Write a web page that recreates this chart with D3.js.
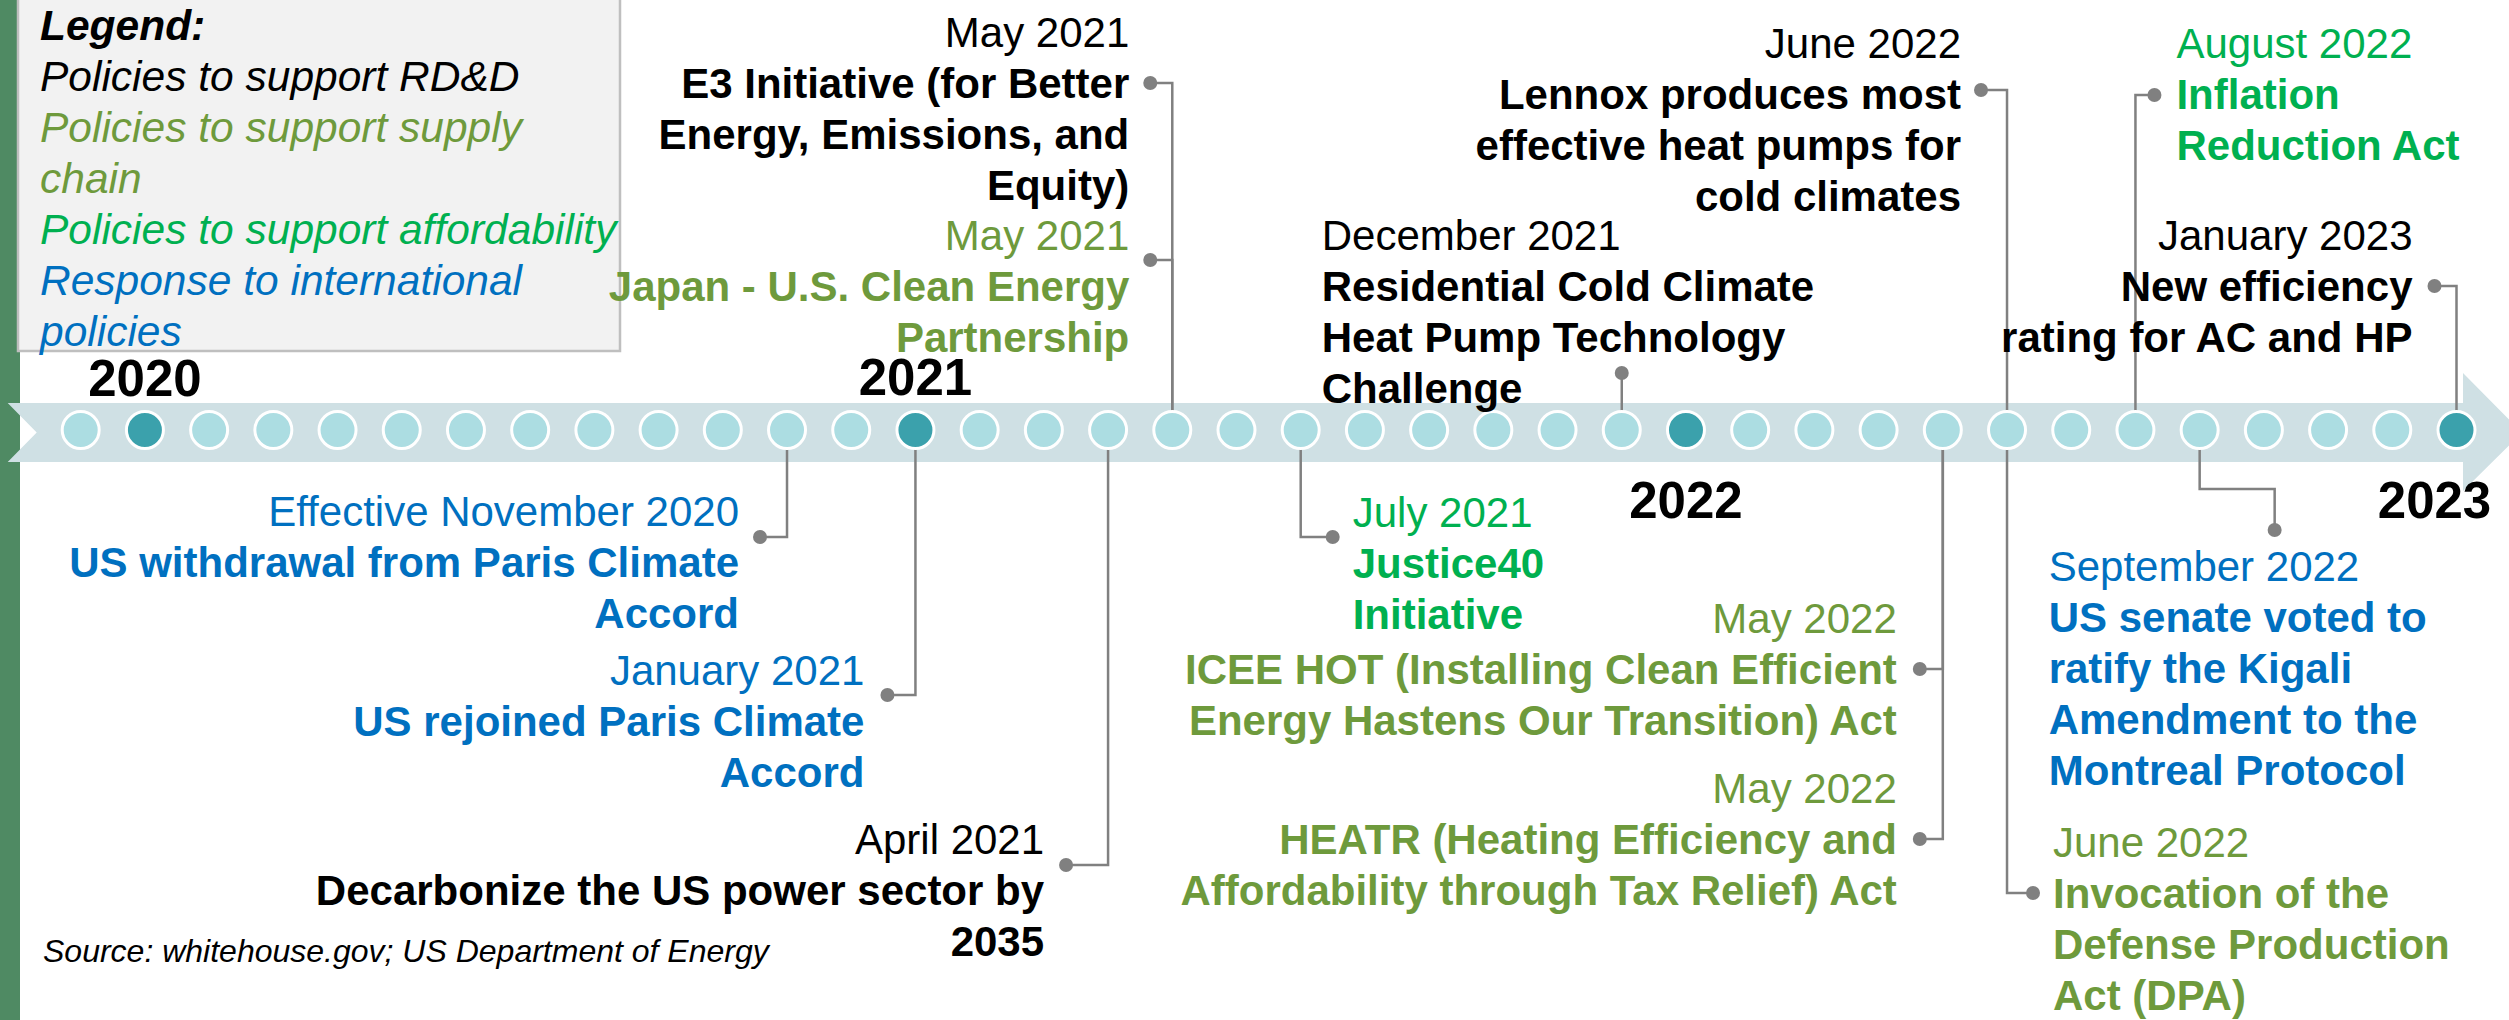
<!DOCTYPE html>
<html>
<head>
<meta charset="utf-8">
<script src="https://cdn.jsdelivr.net/npm/d3@7"></script>
<style>
  body { margin: 0; background: #fff; }
  svg { display: block; }
  text { font-family: "Liberation Sans", Arial, sans-serif; }
</style>
</head>
<body>
<div id="chart-area"></div>
<script>
// categories of policy and their colours
const categories = ["rdd", "supply", "afford", "intl"];
const categoryColors = ["#000000", "#6e9a3c", "#00b050", "#0070c0"];
const legendLines = [
    ["Policies to support RD&D"],
    ["Policies to support supply", "chain"],
    ["Policies to support affordability"],
    ["Response to international", "policies"]
];

// timeline months (one dot per month) and year markers
const monthKeys = d3.timeMonth.range(new Date(2019, 11, 1), new Date(2023, 1, 1)).map(d3.timeFormat("%Y-%m"));
const yearLabels = ["2020", "2021", "2022", "2023"];
const yearMonths = ["2020-01", "2021-01", "2022-01", "2023-01"];

// events
const eventMonths = ["2020-11", "2021-01", "2021-04", "2021-05", "2021-05", "2021-07", "2021-12",
                     "2022-05", "2022-05", "2022-06", "2022-06", "2022-08", "2022-09", "2023-01"];
const eventDates = ["Effective November 2020", "January 2021", "April 2021", "May 2021", "May 2021", "July 2021",
                    "December 2021", "May 2022", "May 2022", "June 2022", "June 2022", "August 2022",
                    "September 2022", "January 2023"];
const eventTitles = [
    ["US withdrawal from Paris Climate", "Accord"],
    ["US rejoined Paris Climate", "Accord"],
    ["Decarbonize the US power sector by", "2035"],
    ["E3 Initiative (for Better", "Energy, Emissions, and", "Equity)"],
    ["Japan - U.S. Clean Energy", "Partnership"],
    ["Justice40", "Initiative"],
    ["Residential Cold Climate", "Heat Pump Technology", "Challenge"],
    ["ICEE HOT (Installing Clean Efficient", "Energy Hastens Our Transition) Act"],
    ["HEATR (Heating Efficiency and", "Affordability through Tax Relief) Act"],
    ["Lennox produces most", "effective heat pumps for", "cold climates"],
    ["Invocation of the", "Defense Production", "Act (DPA)"],
    ["Inflation", "Reduction Act"],
    ["US senate voted to", "ratify the Kigali", "Amendment to the", "Montreal Protocol"],
    ["New efficiency", "rating for AC and HP"]
];
const eventCategory = ["intl", "intl", "rdd", "rdd", "supply", "afford", "rdd",
                       "supply", "supply", "rdd", "supply", "afford", "intl", "rdd"];

// label placement for each event (layout only)
const eventLayout = [
    {elbowY: 537, dotDx: -27, dotY: 537, textDx: -48, anchor: "end", dateY: 526},
    {elbowY: 695, dotDx: -28, dotY: 695, textDx: -51, anchor: "end", dateY: 685},
    {elbowY: 865, dotDx: -42, dotY: 865, textDx: -64, anchor: "end", dateY: 854},
    {elbowY: 83, dotDx: -22, dotY: 83, textDx: -43, anchor: "end", dateY: 47},
    {elbowY: 260, dotDx: -22, dotY: 260, textDx: -43, anchor: "end", dateY: 250},
    {elbowY: 537, dotDx: 32, dotY: 537, textDx: 52, anchor: "start", dateY: 527},
    {elbowY: 373, dotDx: 0, dotY: 373, textDx: -300, anchor: "start", dateY: 250},
    {elbowY: 669, dotDx: -23, dotY: 669, textDx: -46, anchor: "end", dateY: 633},
    {elbowY: 839, dotDx: -23, dotY: 839, textDx: -46, anchor: "end", dateY: 803},
    {elbowY: 90, dotDx: -26, dotY: 90, textDx: -46, anchor: "end", dateY: 58},
    {elbowY: 893, dotDx: 26, dotY: 893, textDx: 46, anchor: "start", dateY: 857},
    {elbowY: 95, dotDx: 19, dotY: 95, textDx: 41, anchor: "start", dateY: 58},
    {elbowY: 489, dotDx: 75, dotY: 530, textDx: -151, anchor: "start", dateY: 581},
    {elbowY: 286, dotDx: -22, dotY: 286, textDx: -44, anchor: "end", dateY: 250}
];
const yearLayout = [{dx: 0, y: 396}, {dx: 0, y: 395}, {dx: 0, y: 518}, {dx: -22, y: 518}];

const width = 2509, height = 1020;
const cy = 430, lineGap = 51;

let svg = d3.select("#chart-area")
            .append("svg")
            .attr("width", width)
            .attr("height", height);

let x = d3.scalePoint()
          .domain(monthKeys)
          .range([80.7, 2456.5]);

let color = d3.scaleOrdinal()
              .domain(categories)
              .range(categoryColors);

// green strip on the left
svg.append("rect")
   .attr("x", 0).attr("y", 0)
   .attr("width", 20).attr("height", height)
   .attr("fill", "#4f8a63");

// legend box
svg.append("rect")
   .attr("x", 18).attr("y", -10)
   .attr("width", 602).attr("height", 361)
   .attr("fill", "#f2f2f2")
   .attr("stroke", "#bfbfbf")
   .attr("stroke-width", 2.5);

svg.append("text")
   .attr("x", 40).attr("y", 40)
   .attr("font-size", 42.5)
   .attr("font-weight", "bold")
   .attr("font-style", "italic")
   .text("Legend:");

let legendRow = 0;
legendLines.forEach(function(lines, i){
    lines.forEach(function(line){
        svg.append("text")
           .attr("x", 40)
           .attr("y", 91 + legendRow * lineGap)
           .attr("font-size", 42.5)
           .attr("font-style", "italic")
           .attr("fill", categoryColors[i])
           .text(line);
        legendRow++;
    });
});

// band with arrow head
let x0 = x(monthKeys[0]), x1 = x(monthKeys[monthKeys.length - 1]);
let bandTop = 403, bandBottom = 462, bandMid = 432.5;
let bandPoints = [
    [x0 - 73, bandTop], [x1 + 6.5, bandTop], [x1 + 6.5, bandTop - 30],
    [x1 + 65.5, bandMid], [x1 + 6.5, bandBottom + 29], [x1 + 6.5, bandBottom],
    [x0 - 73, bandBottom], [x0 - 44, bandMid]
];
svg.append("path")
   .attr("d", d3.line()(bandPoints) + "Z")
   .attr("fill", "#cfe0e4");

// year labels
svg.selectAll(".year")
   .data(yearLabels)
   .enter()
   .append("text")
   .attr("class", "year")
   .attr("x", function(d, i){ return x(yearMonths[i]) + yearLayout[i].dx; })
   .attr("y", function(d, i){ return yearLayout[i].y; })
   .attr("text-anchor", "middle")
   .attr("font-size", 51)
   .attr("font-weight", "bold")
   .text(function(d){ return d; });

// connectors
svg.selectAll(".connector")
   .data(eventMonths)
   .enter()
   .append("path")
   .attr("class", "connector")
   .attr("d", function(d, i){
       let L = eventLayout[i];
       let X = x(d);
       return "M" + X + "," + cy + "V" + L.elbowY + "H" + (X + L.dotDx) + "V" + L.dotY;
   })
   .attr("fill", "none")
   .attr("stroke", "#808080")
   .attr("stroke-width", 2.5);

// month dots
svg.selectAll(".month")
   .data(monthKeys)
   .enter()
   .append("circle")
   .attr("class", "month")
   .attr("cx", function(d){ return x(d); })
   .attr("cy", cy)
   .attr("r", 18.5)
   .attr("fill", function(d){
       return yearMonths.indexOf(d) >= 0 ? "#3ba1ac" : "#acdde2";
   })
   .attr("stroke", "#ffffff")
   .attr("stroke-width", 3);

// end dots of connectors
svg.selectAll(".pin")
   .data(eventMonths)
   .enter()
   .append("circle")
   .attr("class", "pin")
   .attr("cx", function(d, i){ return x(d) + eventLayout[i].dotDx; })
   .attr("cy", function(d, i){ return eventLayout[i].dotY; })
   .attr("r", 7)
   .attr("fill", "#808080");

// event labels, one text per line
eventMonths.forEach(function(d, i){
    let L = eventLayout[i];
    let tx = x(d) + L.textDx;
    let g = svg.append("g")
               .attr("class", "label")
               .attr("text-anchor", L.anchor)
               .attr("font-size", 42)
               .attr("fill", color(eventCategory[i]));
    g.append("text")
     .attr("x", tx)
     .attr("y", L.dateY)
     .text(eventDates[i]);
    eventTitles[i].forEach(function(line, k){
        g.append("text")
         .attr("x", tx)
         .attr("y", L.dateY + (k + 1) * lineGap)
         .attr("font-weight", "bold")
         .text(line);
    });
});

// source note
svg.append("text")
   .attr("x", 43).attr("y", 962)
   .attr("font-size", 32)
   .attr("font-style", "italic")
   .text("Source: whitehouse.gov; US Department of Energy");
</script>
</body>
</html>
